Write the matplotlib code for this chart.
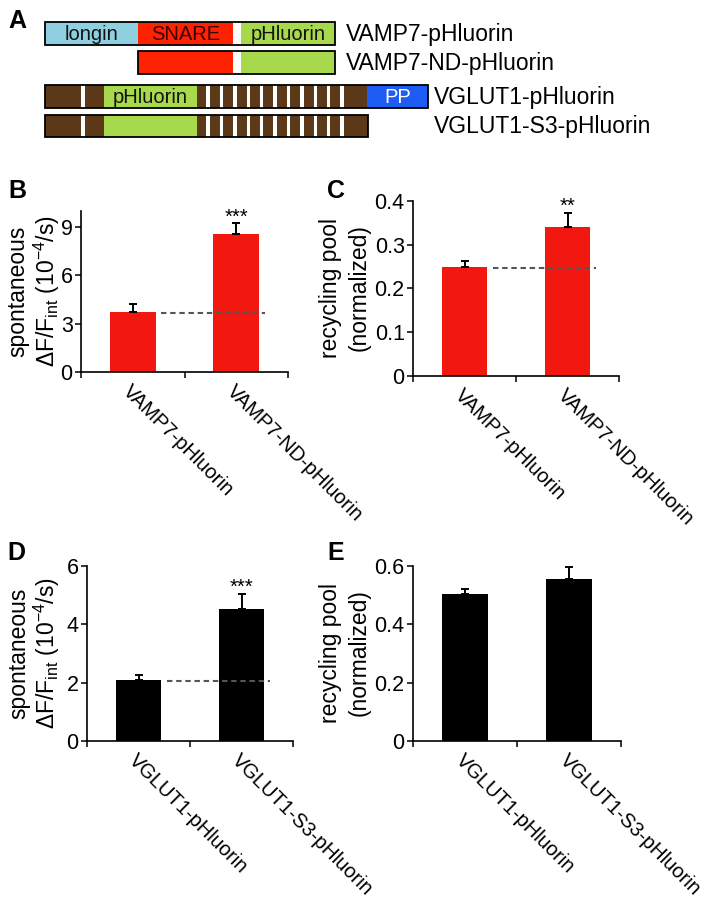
import matplotlib
matplotlib.use('Agg')
import matplotlib.pyplot as plt
from matplotlib.patches import Rectangle
import numpy as np

plt.rcParams['font.family'] = ['Liberation Sans', 'DejaVu Sans']
plt.rcParams['mathtext.default'] = 'regular'

# ---------------- data ----------------
vamp_labels = ['VAMP7-pHluorin', 'VAMP7-ND-pHluorin']
vamp_spont = [3.75, 8.56]
vamp_spont_err = [0.45, 0.69]
vamp_spont_sig = ['', '***']
vamp_spont_ref = 3.68
vamp_pool = [0.249, 0.341]
vamp_pool_err = [0.014, 0.032]
vamp_pool_sig = ['', '**']
vamp_pool_ref = 0.247

vglut_labels = ['VGLUT1-pHluorin', 'VGLUT1-S3-pHluorin']
vglut_spont = [2.09, 4.53]
vglut_spont_err = [0.17, 0.51]
vglut_spont_sig = ['', '***']
vglut_spont_ref = 2.06
vglut_pool = [0.504, 0.555]
vglut_pool_err = [0.017, 0.042]
vglut_pool_sig = ['', '']

spont_vamp_ticks = [0, 3, 6, 9]
spont_vamp_ticklabels = ['0', '3', '6', '9']
pool_vamp_ticks = [0, 0.1, 0.2, 0.3, 0.4]
pool_vamp_ticklabels = ['0', '0.1', '0.2', '0.3', '0.4']
spont_vglut_ticks = [0, 2, 4, 6]
spont_vglut_ticklabels = ['0', '2', '4', '6']
pool_vglut_ticks = [0, 0.2, 0.4, 0.6]
pool_vglut_ticklabels = ['0', '0.2', '0.4', '0.6']

# schematic (panel A): construct names and domain segments (start, end, name, colour key)
construct_names = ['VAMP7-pHluorin', 'VAMP7-ND-pHluorin', 'VGLUT1-pHluorin', 'VGLUT1-S3-pHluorin']
vamp7_segments = [(45, 138, 'longin', 'longin'), (138, 233, 'SNARE', 'snare'),
                  (233, 241, '', 'white'), (241, 335, 'pHluorin', 'phl')]
vamp7nd_segments = [(138, 233, '', 'snare'), (233, 241, '', 'white'), (241, 335, '', 'phl')]
vglut_segments = [(45, 367, '', 'brown'), (104, 197, 'pHluorin', 'phl'), (367, 428, 'PP', 'pp')]
vglut_s3_segments = [(45, 368, '', 'brown'), (104, 197, '', 'phl')]
tm_stripes = [83, 208, 221.4, 234.8, 248.2, 261.6, 275, 288.4, 301.8, 315.2, 328.6, 342]

# ---------------- figure ----------------
W, H = 710, 905
fig = plt.figure(figsize=(W / 100, H / 100), dpi=100)

seg_colors = {'longin': '#8fd0e0', 'snare': '#ff2200', 'white': 'white', 'phl': '#a8d84c',
              'brown': '#5c3a19', 'pp': '#1d5cf5'}
seg_text_colors = {'longin': '#111111', 'snare': '#3a0000', 'phl': '#111111', 'pp': 'white'}

axA = fig.add_axes([0, 0, 1, 1])
axA.set_xlim(0, W)
axA.set_ylim(H, 0)
axA.axis('off')

rows = [(22, 23), (51, 23), (85, 23), (115, 22)]
label_x = [346, 346, 434, 434]
all_segments = [vamp7_segments, vamp7nd_segments, vglut_segments, vglut_s3_segments]
for i, (segs, (top, h)) in enumerate(zip(all_segments, rows)):
    for (s, e, name, key) in segs:
        axA.add_patch(Rectangle((s, top), e - s, h, facecolor=seg_colors[key], edgecolor='none', zorder=2))
        if name:
            axA.text((s + e) / 2, top + h / 2 + 1, name, ha='center', va='center', fontsize=14.5,
                     color=seg_text_colors[key], zorder=4)
    if i >= 2:
        for sx in tm_stripes:
            axA.add_patch(Rectangle((sx - 1.7, top), 3.4, h, facecolor='white', edgecolor='none', zorder=3))
    x0 = min(s for s, _, _, _ in segs)
    x1 = max(e for _, e, _, _ in segs)
    axA.add_patch(Rectangle((x0, top), x1 - x0, h, facecolor='none', edgecolor='black', lw=1.3, zorder=5))
    axA.text(label_x[i], top + h / 2 + 1, construct_names[i], ha='left', va='center', fontsize=16.5, zorder=5)


def px_ax(x0, y0, x1, y1):
    return fig.add_axes([x0 / W, 1 - y1 / H, (x1 - x0) / W, (y1 - y0) / H])


def bar_panel(ax, labels, vals, errs, color, ylim, ticks, ticklabels, sig, ref=None):
    x = np.arange(len(vals))
    bw = 0.445
    ax.bar(x, vals, width=bw, color=color, zorder=2)
    ax.errorbar(x, vals, yerr=[np.zeros(len(errs)), errs], fmt='none', ecolor='black',
                elinewidth=1.4, capsize=2.6, capthick=1.4, zorder=3)
    if ref is not None:
        ax.plot([x[0] + bw / 2 + 0.05, x[1] + bw / 2 + 0.055], [ref, ref], ls=(0, (2.6, 1.8)),
                color='#555555', lw=1.5, zorder=4)
    for xi, v, e, s in zip(x, vals, errs, sig):
        if s:
            ax.annotate(s, xy=(xi, v + e), xytext=(0, 0.5), textcoords='offset points',
                        ha='center', va='baseline', fontsize=14.5)
    ax.set_xlim(-0.5, 1.5)
    ax.set_ylim(*ylim)
    for sp in ['top', 'right']:
        ax.spines[sp].set_visible(False)
    for sp in ['left', 'bottom']:
        ax.spines[sp].set_linewidth(1.2)
    ax.set_xticks(x)
    ax.set_xticklabels(labels, rotation=-45, ha='left', va='top', rotation_mode='anchor', fontsize=14.5)
    ax.tick_params(axis='x', which='major', length=0, pad=7)
    ax.set_xticks([-0.5, 0.5, 1.5], minor=True)
    ax.tick_params(axis='x', which='minor', length=4, width=1.1, direction='out')
    ax.set_yticks(ticks)
    ax.set_yticklabels(ticklabels)
    ax.tick_params(axis='y', length=4, width=1.1, labelsize=15.5, pad=2)


red = '#f2180f'
axB = px_ax(81, 211, 288, 372)
bar_panel(axB, vamp_labels, vamp_spont, vamp_spont_err, red, (0, 10),
          spont_vamp_ticks, spont_vamp_ticklabels, vamp_spont_sig, vamp_spont_ref)
axC = px_ax(413, 201, 619, 376)
bar_panel(axC, vamp_labels, vamp_pool, vamp_pool_err, red, (0, 0.4),
          pool_vamp_ticks, pool_vamp_ticklabels, vamp_pool_sig, vamp_pool_ref)
axD = px_ax(87, 566, 293, 741)
bar_panel(axD, vglut_labels, vglut_spont, vglut_spont_err, 'black', (0, 6),
          spont_vglut_ticks, spont_vglut_ticklabels, vglut_spont_sig, vglut_spont_ref)
axE = px_ax(413, 566, 621, 741)
bar_panel(axE, vglut_labels, vglut_pool, vglut_pool_err, 'black', (0, 0.6),
          pool_vglut_ticks, pool_vglut_ticklabels, vglut_pool_sig)


def ftext(x, y, s, **kw):
    fig.text(x / W, 1 - y / H, s, **kw)


spont1 = 'spontaneous'
spont2 = r'ΔF/F$_{int}$ (10$^{-4}$/s)'
pool1 = 'recycling pool'
pool2 = '(normalized)'
lab_kw = dict(rotation=90, ha='center', va='center', fontsize=16.5)
ftext(18, 291, spont1, **lab_kw)
ftext(47, 291, spont2, **lab_kw)
ftext(331, 288, pool1, **lab_kw)
ftext(359, 288, pool2, **lab_kw)
ftext(19, 653, spont1, **lab_kw)
ftext(47, 653, spont2, **lab_kw)
ftext(331, 653, pool1, **lab_kw)
ftext(359, 653, pool2, **lab_kw)

let_kw = dict(ha='center', va='center', fontsize=18, fontweight='bold')
ftext(17, 21, 'A', **let_kw)
ftext(17, 191, 'B', **let_kw)
ftext(336, 191, 'C', **let_kw)
ftext(16, 553, 'D', **let_kw)
ftext(336, 553, 'E', **let_kw)

fig.savefig('out.png', dpi=100)
